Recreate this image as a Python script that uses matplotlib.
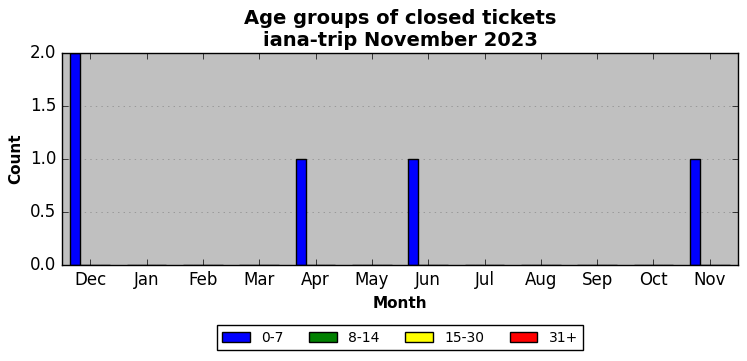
import matplotlib
matplotlib.use("Agg")
import matplotlib.pyplot as plt
import numpy as np

plt.style.use('classic')

months = ["Dec", "Jan", "Feb", "Mar", "Apr", "May", "Jun", "Jul", "Aug", "Sep", "Oct", "Nov"]
groups = ["0-7", "8-14", "15-30", "31+"]
colors = ["blue", "green", "yellow", "red"]
g0_7 = [2, 0, 0, 0, 1, 0, 1, 0, 0, 0, 0, 1]
g8_14 = [0] * 12
g15_30 = [0] * 12
g31 = [0] * 12
series = [g0_7, g8_14, g15_30, g31]

fig = plt.figure(figsize=(7.47, 3.61), dpi=100)
ax = fig.add_axes([62/747, 1-265/361, 676/747, 212/361])
ax.set_facecolor('#c0c0c0')
x = np.arange(len(months))
w = 0.175
for i, (s, c, g) in enumerate(zip(series, colors, groups)):
    ax.bar(x + (i - 1.5) * w, s, w, color=c, label=g, align='center',
           edgecolor='black', linewidth=1)
ax.set_xticks(x)
ax.set_xticklabels(months)
ax.set_xlim(-0.5, 11.5)
ax.set_ylim(0, 2)
ax.set_yticks([0, 0.5, 1.0, 1.5, 2.0])
ax.yaxis.grid(True, linestyle=':', color='#888888')
ax.xaxis.grid(False)
ax.set_axisbelow(True)
ax.set_xlabel("Month", fontweight='bold', fontsize=11)
ax.set_ylabel("Count", fontweight='bold', fontsize=11)
ax.set_title("Age groups of closed tickets\niana-trip November 2023", fontweight='bold', fontsize=14)
leg = ax.legend(loc='upper center', bbox_to_anchor=(0.5, -0.25), ncol=4, fontsize=10,
                frameon=True, handlelength=2.0, columnspacing=1.85)
fig.savefig("out.png", dpi=100)
